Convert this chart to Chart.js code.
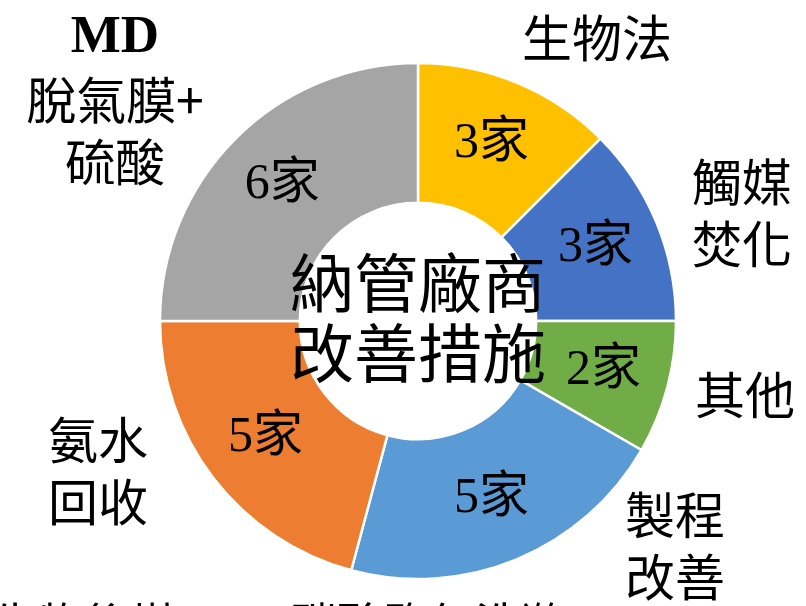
<!DOCTYPE html>
<html>
<head>
<meta charset="utf-8">
<script src="https://cdn.jsdelivr.net/npm/chart.js@4.4.1/dist/chart.umd.min.js"></script>
<style>
  html, body { margin: 0; padding: 0; background: #fff; overflow: hidden; }
  #wrap { width: 806px; height: 606px; }
</style>
</head>
<body>
<div id="wrap"><canvas id="chart" width="806" height="606"></canvas></div>
<script>
// improvement measures taken by connected plants (count of plants)
const categories = ['生物法', '觸媒焚化', '其他', '製程改善', '氨水回收', 'MD脫氣膜+硫酸'];
const counts = [3, 3, 2, 5, 5, 6];
const unit = '家';
const centerTitle = ['納管廠商', '改善措施'];

const sliceColors = ['#FFC000', '#4472C4', '#70AD47', '#5B9BD5', '#ED7D31', '#A5A5A5'];

// outside captions: lines + anchor (canvas px)
const captionLayout = [
  { lines: ['生物法'], x: 597, y: 38 },
  { lines: ['觸媒', '焚化'], x: 742, y: 182 },
  { lines: ['其他'], x: 745, y: 395 },
  { lines: ['製程', '改善'], x: 675, y: 515 },
  { lines: ['氨水', '回收'], x: 98, y: 440 },
  { lines: ['MD', '脫氣膜+', '硫酸'], x: 115, y: 38 }
];

const SANS = '"Noto Sans CJK TC", "Noto Sans", sans-serif';
const SERIF = '"Liberation Serif", "Noto Sans CJK TC", serif';

const labelsPlugin = {
  id: 'labelsPlugin',
  afterDatasetsDraw(chart) {
    const ctx = chart.ctx;
    const meta = chart.getDatasetMeta(0);
    ctx.save();
    ctx.fillStyle = '#000';
    ctx.textAlign = 'center';
    ctx.textBaseline = 'middle';

    // value inside each slice, a little past the ring's middle
    meta.data.forEach((arc, i) => {
      const mid = (arc.startAngle + arc.endAngle) / 2;
      const r = (arc.innerRadius + arc.outerRadius) / 2 + 4;
      ctx.font = '50px ' + SERIF;
      ctx.fillText(counts[i] + unit, arc.x + Math.cos(mid) * r, arc.y + Math.sin(mid) * r);
    });

    // center title
    const cx = (chart.chartArea.left + chart.chartArea.right) / 2;
    const cy = (chart.chartArea.top + chart.chartArea.bottom) / 2;
    ctx.font = '64px ' + SANS;
    ctx.fillText(centerTitle[0], cx, cy - 38);
    ctx.fillText(centerTitle[1], cx, cy + 32);

    // category captions around the ring
    captionLayout.forEach(c => {
      c.lines.forEach((ln, k) => {
        ctx.font = ln === 'MD' ? 'bold 53px ' + SERIF : '50px ' + SANS;
        ctx.fillText(ln, c.x, c.y + k * 62);
      });
    });

    // next row of captions, cut by the bottom edge
    ctx.textAlign = 'left';
    ctx.textBaseline = 'top';
    ctx.font = '46px ' + SANS;
    ctx.fillText('生物後塔', -8, 601);
    ctx.fillText('碳酸鹽氣洗滌', 291, 601);
    ctx.restore();
  }
};

new Chart(document.getElementById('chart'), {
  type: 'doughnut',
  data: {
    labels: categories,
    datasets: [{
      data: counts,
      backgroundColor: sliceColors,
      borderColor: '#fff',
      borderWidth: 2.5
    }]
  },
  options: {
    responsive: false,
    animation: false,
    radius: 258,
    cutout: 130,
    layout: { padding: { left: 30, right: 0, top: 36, bottom: 0 } },
    plugins: {
      legend: { display: false },
      tooltip: { enabled: false }
    }
  },
  plugins: [labelsPlugin]
});
</script>
</body>
</html>
